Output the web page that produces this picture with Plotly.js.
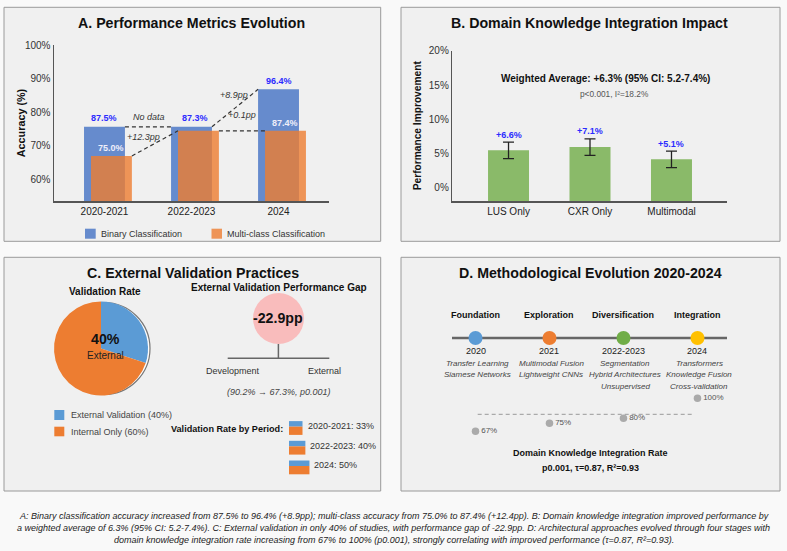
<!DOCTYPE html>
<html>
<head>
<meta charset="utf-8">
<script src="https://cdn.plot.ly/plotly-3.0.1.min.js"></script>
<style>
html,body{margin:0;padding:0;background:#f9f9f9;}
#chart{width:787px;height:551px;}
</style>
</head>
<body>
<div id="chart"></div>
<script>
// ---------------- DATA ----------------
// Panel A
const periods = ['2020-2021', '2022-2023', '2024'];
const binaryBarHeight = [75.6, 75.6, 86.8];   // bar tops as drawn against the axis
const multiBarHeight = [66.9, 74.4, 74.4];
const binaryLabel = [87.5, 87.3, 96.4];        // value labels printed on the chart
const multiLabel = [75.0, null, 87.4];
const connectorLabels = ['No data', '+12.3pp', '+8.9pp', '+0.1pp'];
const accuracyTicks = [60, 70, 80, 90, 100];

// Panel B
const modalities = ['LUS Only', 'CXR Only', 'Multimodal'];
const improvementBar = [5.46, 5.94, 4.15];     // bar tops as drawn
const improvementErr = [1.21, 1.21, 1.2];
const improvementLabel = [6.6, 7.1, 5.1];
const improvementTicks = [0, 5, 10, 15, 20];

// Panel C
const validationLabels = ['External Validation (40%)', 'Internal Only (60%)'];
const validationShare = [30, 70];              // slice sizes as drawn
const periodNames = ['2020-2021', '2022-2023', '2024'];
const periodRates = [33, 40, 50];
const devAccuracy = 90.2;
const extAccuracy = 67.3;
const accuracyGap = -22.9;

// Panel D
const stages = ['Foundation', 'Exploration', 'Diversification', 'Integration'];
const stageYears = ['2020', '2021', '2022-2023', '2024'];
const stageMethods = [
  ['Transfer Learning', 'Siamese Networks'],
  ['Multimodal Fusion', 'Lightweight CNNs'],
  ['Segmentation', 'Hybrid Architectures', 'Unsupervised'],
  ['Transformers', 'Knowledge Fusion', 'Cross-validation']
];
const integrationRate = [67, 75, 80, 100];

const captionLines = [
  'A: Binary classification accuracy increased from 87.5% to 96.4% (+8.9pp); multi-class accuracy from 75.0% to 87.4% (+12.4pp). B: Domain knowledge integration improved performance by',
  'a weighted average of 6.3% (95% CI: 5.2-7.4%). C: External validation in only 40% of studies, with performance gap of -22.9pp. D: Architectural approaches evolved through four stages with',
  'domain knowledge integration rate increasing from 67% to 100% (p0.001), strongly correlating with improved performance (τ=0.87, R²=0.93).'
];

// ---------------- HELPERS ----------------
const W = 787, H = 551;
const px = x => x / W;
const py = y => 1 - y / H;
const FONT = 'Liberation Sans, Arial, Helvetica, sans-serif';
const ann = [];
const shapes = [];

function T(text, x, y, size, color, opt) {
  const a = {text: text, x: px(x), y: py(y), xref: 'paper', yref: 'paper', showarrow: false,
    xanchor: 'center', yanchor: 'middle', font: {family: FONT, size: size || 9, color: color || '#222'}};
  if (opt) Object.assign(a, opt);
  ann.push(a);
}
function rectPx(x0, y0, x1, y1, fill, line, lw, extra) {
  const s = {type: 'rect', xref: 'paper', yref: 'paper', x0: px(x0), x1: px(x1), y0: py(y1), y1: py(y0),
    fillcolor: fill, line: {color: line || 'rgba(0,0,0,0)', width: lw || 0}, layer: 'below'};
  if (extra) Object.assign(s, extra);
  shapes.push(s);
}
function linePx(x0, y0, x1, y1, color, w, dash, layer) {
  shapes.push({type: 'line', xref: 'paper', yref: 'paper', x0: px(x0), x1: px(x1), y0: py(y0), y1: py(y1),
    line: {color: color, width: w, dash: dash || 'solid'}, layer: layer || 'above'});
}

// Panels
rectPx(4, 7.3, 380.7, 241.3, '#f0f0f0', '#9a9a9a', 1);
rectPx(401, 7.3, 780, 241.3, '#f0f0f0', '#9a9a9a', 1);
rectPx(4, 257.3, 380.7, 491, '#f0f0f0', '#9a9a9a', 1);
rectPx(401, 257.3, 780, 491, '#f0f0f0', '#9a9a9a', 1);

const traces = [];

// ---------------- PANEL A ----------------
const BW = 0.47, BOFF = -0.235, MOFF = -0.155;
const xA = periods.map((_, i) => i);
traces.push({type: 'bar', x: xA, y: binaryBarHeight, width: BW, offset: BOFF,
  marker: {color: '#4472c4', opacity: 0.8}, xaxis: 'x', yaxis: 'y', hoverinfo: 'skip'});
traces.push({type: 'bar', x: xA, y: multiBarHeight, width: BW, offset: MOFF,
  marker: {color: '#ed7d31', opacity: 0.8}, xaxis: 'x', yaxis: 'y', hoverinfo: 'skip'});

function segA(x0, y0, x1, y1) {
  shapes.push({type: 'line', xref: 'x', yref: 'y', x0: x0, y0: y0, x1: x1, y1: y1,
    line: {color: '#333', width: 1.2, dash: '4px,3px'}, layer: 'above'});
}
segA(0 + BOFF + BW, binaryBarHeight[0], 1 + BOFF, binaryBarHeight[1]);
segA(0 + MOFF + BW, multiBarHeight[0], 1 + MOFF, multiBarHeight[1]);
segA(1 + BOFF + BW, binaryBarHeight[1], 2 + BOFF, binaryBarHeight[2]);
segA(1 + MOFF + BW, multiBarHeight[1], 2 + MOFF, multiBarHeight[2]);

const connPos = [[149.3, 116.7], [143.3, 136.7], [234.3, 95], [241.7, 115.3]];
connectorLabels.forEach((t, i) => T('<i>' + t + '</i>', connPos[i][0], connPos[i][1], 9, '#333'));

const binDx = [0, 0.045, 0];
binaryLabel.forEach((v, i) => {
  if (v == null) return;
  ann.push({xref: 'x', yref: 'y', x: i + binDx[i], y: binaryBarHeight[i], yshift: 8.5, showarrow: false,
    text: '<b>' + v.toFixed(1) + '%</b>', xanchor: 'center', yanchor: 'middle',
    font: {family: FONT, size: 9, color: '#2b2bff'}});
});
multiLabel.forEach((v, i) => {
  if (v == null) return;
  ann.push({xref: 'x', yref: 'y', x: i + MOFF + BW / 2, y: multiBarHeight[i], yshift: 8.3, showarrow: false,
    text: '<b>' + v.toFixed(1) + '%</b>', xanchor: 'center', yanchor: 'middle',
    font: {family: FONT, size: 9, color: '#eeeefa'}});
});

T('<b>A. Performance Metrics Evolution</b>', 191.7, 23.3, 14.2, '#111');
T('<b>Accuracy (%)</b>', 20.7, 122.5, 10.8, '#111', {textangle: -90});
rectPx(85, 228.7, 95.7, 238.7, '#4472c4', null, 0, {opacity: 0.8, layer: 'above'});
T('Binary Classification', 99, 233.7, 9, '#333', {xanchor: 'left'});
rectPx(211.5, 228.7, 222, 238.7, '#ed7d31', null, 0, {opacity: 0.8, layer: 'above'});
T('Multi-class Classification', 225, 233.7, 9, '#333', {xanchor: 'left'});

// ---------------- PANEL B ----------------
const B_MIN = -1.94;
traces.push({type: 'bar', x: modalities.map((_, i) => i), y: improvementBar.map(v => v - B_MIN), base: B_MIN,
  width: 0.503, marker: {color: '#70ad47', opacity: 0.8},
  error_y: {type: 'data', array: improvementErr, visible: true, color: '#222', thickness: 1.3, width: 5.5},
  xaxis: 'x2', yaxis: 'y2', hoverinfo: 'skip'});
improvementLabel.forEach((v, i) => {
  ann.push({xref: 'x2', yref: 'y2', x: i, y: improvementBar[i] + improvementErr[i], yshift: 7.5, showarrow: false,
    text: '<b>+' + v.toFixed(1) + '%</b>', xanchor: 'center', yanchor: 'middle',
    font: {family: FONT, size: 9, color: '#2b2bff'}});
});
T('<b>B. Domain Knowledge Integration Impact</b>', 589.7, 23.3, 14.2, '#111');
T('<b>Performance Improvement</b>', 418.3, 125, 10.2, '#111', {textangle: -90});
T('<b>Weighted Average: +6.3% (95% CI: 5.2-7.4%)</b>', 605.5, 79, 10, '#111');
T('p<0.001, I²=18.2%', 614, 94.3, 8.3, '#555');

// ---------------- PANEL C ----------------
T('<b>C. External Validation Practices</b>', 192.5, 272.7, 14.2, '#111');
T('<b>Validation Rate</b>', 105.3, 291.7, 10, '#111');
shapes.push({type: 'circle', xref: 'paper', yref: 'paper', x0: px(58), x1: px(150), y0: py(394.5), y1: py(302.5),
  fillcolor: '#fdfdfd', line: {color: '#777', width: 1.2}, layer: 'below'});
traces.push({type: 'pie', values: validationShare, labels: validationLabels, sort: false, direction: 'clockwise',
  rotation: 0, textinfo: 'none', hoverinfo: 'skip', showlegend: false,
  marker: {colors: ['#5b9bd5', '#ed7d31'], line: {width: 0}},
  domain: {x: [px(54), px(148)], y: [py(395.5), py(301.5)]}});
T('<b>40%</b>', 105, 339, 14.2, '#111');
T('External', 105.3, 355.7, 10, '#222');
rectPx(54.3, 410, 64.3, 420, '#5b9bd5', null, 0, {layer: 'above'});
T(validationLabels[0], 68.5, 415, 9, '#444', {xanchor: 'left'});
rectPx(54.3, 426.7, 64.3, 436.3, '#ed7d31', null, 0, {layer: 'above'});
T(validationLabels[1], 68.5, 431.5, 9, '#444', {xanchor: 'left'});

T('<b>External Validation Performance Gap</b>', 278.8, 287.7, 10, '#111');
shapes.push({type: 'circle', xref: 'paper', yref: 'paper', x0: px(253), x1: px(304), y0: py(344), y1: py(293),
  fillcolor: '#f9bcbc', line: {width: 0}, layer: 'below'});
T('<b>' + accuracyGap.toFixed(1) + 'pp</b>', 278.3, 317.7, 14.2, '#111');
linePx(278.4, 344, 278.4, 358.3, '#666', 1.5);
linePx(227.7, 358.3, 329.3, 358.3, '#666', 1.5);
T('Development', 232.7, 371, 9, '#333');
T('External', 324.5, 371, 9, '#333');
T('<i>(' + devAccuracy.toFixed(1) + '% → ' + extAccuracy.toFixed(1) + '%, p0.001)</i>', 278.8, 392.3, 9, '#444');
T('<b>Validation Rate by Period:</b>', 227, 429.3, 9.1, '#111');

const yIcon = periodNames.map((_, i) => -i);
traces.push({type: 'bar', orientation: 'h', y: yIcon, x: periodRates, width: 0.28, offset: 0.07,
  marker: {color: '#5b9bd5'}, xaxis: 'x3', yaxis: 'y3', hoverinfo: 'skip'});
traces.push({type: 'bar', orientation: 'h', y: yIcon, x: periodRates, width: 0.42, offset: -0.35,
  marker: {color: '#ed7d31'}, xaxis: 'x3', yaxis: 'y3', hoverinfo: 'skip'});
periodRates.forEach((r, i) => {
  ann.push({xref: 'x3', yref: 'y3', x: r, y: -i, xshift: 3, yshift: 2, showarrow: false, xanchor: 'left', yanchor: 'middle',
    text: periodNames[i] + ': ' + r + '%', font: {family: FONT, size: 9, color: '#333'}});
});

// ---------------- PANEL D ----------------
T('<b>D. Methodological Evolution 2020-2024</b>', 590, 273.3, 14.2, '#111');
linePx(452, 338, 727, 338, '#666', 2.6, 'solid', 'below');
traces.push({type: 'scatter', mode: 'markers', x: stages, y: stages.map(() => 0),
  marker: {size: 14, color: ['#5b9bd5', '#ed7d31', '#70ad47', '#ffc000']},
  xaxis: 'x4', yaxis: 'y5', hoverinfo: 'skip', cliponaxis: false});
traces.push({type: 'scatter', mode: 'markers+text', x: stages, y: integrationRate,
  text: integrationRate.map(v => v + '%'), textposition: 'middle right',
  textfont: {family: FONT, size: 8, color: '#555'},
  marker: {size: 7.5, color: '#aaaaaa'}, xaxis: 'x4', yaxis: 'y4', hoverinfo: 'skip', cliponaxis: false});
linePx(477.7, 414.3, 694.3, 414.3, '#999', 1, '4px,3px');

stages.forEach((s, i) => {
  ann.push({xref: 'x4', yref: 'paper', x: i, y: py(315), showarrow: false, xanchor: 'center', yanchor: 'middle',
    text: '<b>' + s + '</b>', font: {family: FONT, size: 9, color: '#111'}});
  ann.push({xref: 'x4', yref: 'paper', x: i, y: py(351), showarrow: false, xanchor: 'center', yanchor: 'middle',
    text: stageYears[i], font: {family: FONT, size: 9, color: '#222'}});
  stageMethods[i].forEach((m, k) => {
    ann.push({xref: 'x4', yref: 'paper', x: i, y: py(363.3 + 11.35 * k), xshift: 2, showarrow: false,
      xanchor: 'center', yanchor: 'middle',
      text: '<i>' + m + '</i>', font: {family: FONT, size: 8, color: '#444'}});
  });
});
T('<b>Domain Knowledge Integration Rate</b>', 590, 452.7, 9, '#111');
T('<b>p0.001, τ=0.87, R²=0.93</b>', 590, 468.3, 9, '#111');

// ---------------- CAPTION ----------------
const capY = [516, 528, 540];
captionLines.forEach((t, i) => T('<i>' + t + '</i>', 393.5, capY[i], 9, '#222'));

// ---------------- LAYOUT ----------------
const axBase = {showgrid: false, zeroline: false, ticks: '', fixedrange: true};
const layout = {
  width: W, height: H,
  margin: {l: 0, r: 0, t: 0, b: 0},
  paper_bgcolor: '#f9f9f9',
  plot_bgcolor: 'rgba(0,0,0,0)',
  showlegend: false,
  barmode: 'overlay',
  font: {family: FONT},
  xaxis: Object.assign({}, axBase, {domain: [px(54), px(329)], range: [-0.58, 2.58], tickmode: 'array', tickvals: [0, 1, 2], ticktext: periods,
    showline: true, linecolor: '#555', linewidth: 1.5, tickfont: {size: 10, color: '#222'}, anchor: 'y'}),
  yaxis: Object.assign({}, axBase, {domain: [py(201), py(45)], range: [53.43, 100.05], tickmode: 'array', tickvals: accuracyTicks,
    ticktext: accuracyTicks.map(v => v + '%'),
    showline: true, linecolor: '#555', linewidth: 1.5, tickfont: {size: 10, color: '#333'}, anchor: 'x'}),
  xaxis2: Object.assign({}, axBase, {domain: [px(452.3), px(727.3)], range: [-0.69, 2.685], tickmode: 'array', tickvals: [0, 1, 2], ticktext: modalities,
    showline: true, linecolor: '#555', linewidth: 1.5, tickfont: {size: 10, color: '#222'}, anchor: 'y2'}),
  yaxis2: Object.assign({}, axBase, {domain: [py(201), py(50.5)], range: [B_MIN, 20.05], tickmode: 'array', tickvals: improvementTicks,
    ticktext: improvementTicks.map(v => v + '%'),
    showline: true, linecolor: '#555', linewidth: 1.5, tickfont: {size: 10, color: '#333'}, anchor: 'x2'}),
  xaxis3: Object.assign({}, axBase, {domain: [px(289), px(339)], range: [0, 122.2], visible: false, anchor: 'y3'}),
  yaxis3: Object.assign({}, axBase, {domain: [py(478), py(418)], range: [-2.538, 0.508], visible: false, anchor: 'x3'}),
  xaxis4: Object.assign({}, axBase, {domain: [px(452), px(727)], type: 'category', range: [-0.3176, 3.399], visible: false, anchor: 'y4'}),
  yaxis4: Object.assign({}, axBase, {domain: [py(445), py(300)], range: [53.36, 197.8], visible: false, anchor: 'x4'}),
  yaxis5: Object.assign({}, axBase, {overlaying: 'y4', range: [-0.738, 0.262], visible: false, anchor: 'x4'}),
  shapes: shapes,
  annotations: ann
};

Plotly.newPlot('chart', traces, layout, {staticPlot: true, displayModeBar: false});
</script>
</body>
</html>
